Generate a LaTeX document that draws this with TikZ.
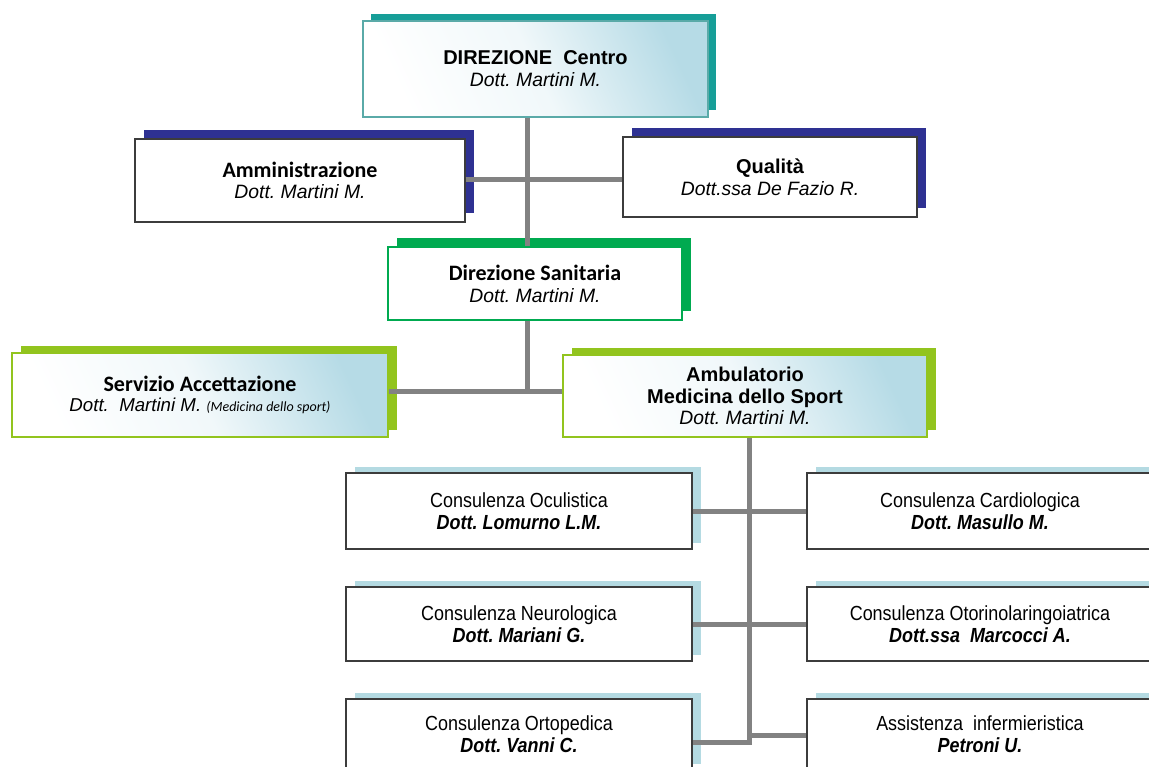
\documentclass[tikz,border=0pt]{standalone}
\usepackage{fontspec}
\setmainfont{Liberation Sans}
\newfontfamily\carl{Carlito}
\newfontfamily\narr[FakeStretch=0.88]{Liberation Sans}
\usetikzlibrary{shadows}
\definecolor{cTeal}{RGB}{22,158,152}
\definecolor{cTealB}{RGB}{90,170,168}
\definecolor{cNavy}{RGB}{46,49,146}
\definecolor{cGreen}{RGB}{0,170,80}
\definecolor{cLime}{RGB}{146,196,30}
\definecolor{cSky}{RGB}{180,218,226}
\definecolor{cGrad}{RGB}{182,219,230}
\definecolor{cLine}{RGB}{130,130,130}
\definecolor{cBorder}{RGB}{60,60,60}
\frenchspacing
\begin{document}
\frenchspacing
\begin{tikzpicture}[x=0.75pt,y=-0.75pt,
  box/.style={rectangle, inner sep=0pt, align=center},
  sz/.style 2 args={minimum width={#1*0.75pt}, minimum height={#2*0.75pt}},
  grad/.style={top color=cGrad, bottom color=white, middle color=cGrad!20, shading angle=-65},
  topbox/.style={box, grad, draw=cTealB, line width=0.9pt, general shadow={fill=cTeal, shadow xshift=6pt, shadow yshift=5.25pt}},
  navybox/.style={box, fill=white, draw=cBorder, line width=0.9pt, general shadow={fill=cNavy, shadow xshift=6.75pt, shadow yshift=6.75pt}},
  greenbox/.style={box, fill=white, draw=cGreen, line width=0.9pt, general shadow={fill=cGreen, shadow xshift=6.75pt, shadow yshift=6.75pt}},
  limebox/.style={box, grad, draw=cLime, line width=0.9pt, general shadow={fill=cLime, shadow xshift=6.5pt, shadow yshift=5.25pt}},
  consbox/.style={box, fill=white, draw=cBorder, line width=1.1pt, general shadow={fill=cSky, shadow xshift=6.75pt, shadow yshift=4.5pt}, font=\narr\fontsize{15.3pt}{16.5pt}\selectfont, sz={346}{76}},
  conn/.style={draw=cLine, line width=3.75pt}
]
\fill[white] (0,0) rectangle (1149,767);
\useasboundingbox (0,0) rectangle (1149,767);

% upper part
\node[topbox, sz={345}{96}, font=\fontsize{15pt}{16.5pt}\selectfont] (top) at (535.5,69)
  {\bfseries DIREZIONE\ \ Centro\\{\itshape\fontsize{14.5pt}{16.5pt}\selectfont Dott. Martini M.}};
\node[navybox, sz={330}{83}, font=\fontsize{14.5pt}{15.5pt}\selectfont] (amm) at (300,180.5)
  {{\carl\bfseries\fontsize{16.5pt}{15.5pt}\selectfont Amministrazione}\\\itshape Dott. Martini M.};
\node[navybox, sz={294}{80}, font=\fontsize{14.5pt}{16.5pt}\selectfont] (qual) at (770,177)
  {{\bfseries\fontsize{15pt}{16.5pt}\selectfont Qualità}\\\itshape Dott.ssa De Fazio R.};
\node[greenbox, sz={294}{73}, font=\fontsize{14.5pt}{16.5pt}\selectfont] (dirsan) at (535,283.5)
  {{\carl\bfseries\fontsize{16.5pt}{16.5pt}\selectfont Direzione Sanitaria}\\\itshape Dott. Martini M.};
\node[limebox, sz={376}{84}, font=\fontsize{14pt}{15.5pt}\selectfont] (serv) at (200,395)
  {{\carl\bfseries\fontsize{16.5pt}{15.5pt}\selectfont Servizio Accettazione}\\{\itshape Dott.\ \ Martini M.} {\carl\itshape\fontsize{10.5pt}{15.5pt}\selectfont(Medicina dello sport)}};
\node[limebox, sz={364}{82}, font=\fontsize{15pt}{16pt}\selectfont] (amb) at (745,396)
  {\bfseries Ambulatorio\\\bfseries Medicina dello Sport\\{\itshape\fontsize{14.5pt}{16pt}\selectfont Dott. Martini M.}};

% consulenze
\node[consbox] (ocul) at (519,511) {Consulenza Oculistica\\\textbf{\textit{Dott. Lomurno L.M.}}};
\node[consbox] (card) at (980,511) {Consulenza Cardiologica\\\textbf{\textit{Dott. Masullo M.}}};
\node[consbox, sz={346}{74}] (neur) at (519,624) {Consulenza Neurologica\\\textbf{\textit{Dott. Mariani G.}}};
\node[consbox, sz={346}{74}] (oto) at (980,624) {Consulenza Otorinolaringoiatrica\\\textbf{\textit{Dott.ssa\ \ Marcocci A.}}};
\node[consbox, sz={346}{71}] (orto) at (519,734.5) {Consulenza Ortopedica\\\textbf{\textit{Dott. Vanni C.}}};
\node[consbox, sz={346}{71}] (assist) at (980,734.5) {Assistenza\ \ infermieristica\\\textbf{\textit{Petroni U.}}};

% connectors
\coordinate (t1) at (527,179);
\coordinate (t2) at (527,391);
\coordinate (b1) at (749,742);
\coordinate (b2) at (749,735);
\draw[conn] (top.south -| t1) -- (dirsan.north -| t1);
\draw[conn] (amm.east |- t1) -- (qual.west |- t1);
\draw[conn] (dirsan.south -| t2) -- (t2);
\draw[conn] (serv.east |- t2) -- (amb.west |- t2);
\draw[conn] (amb.south -| b1) -- (b1) -- (orto.east |- b1);
\draw[conn] (b2) -- (assist.west |- b2);
\draw[conn] (ocul.east) -- (card.west);
\draw[conn] (neur.east) -- (oto.west);
\end{tikzpicture}
\end{document}
